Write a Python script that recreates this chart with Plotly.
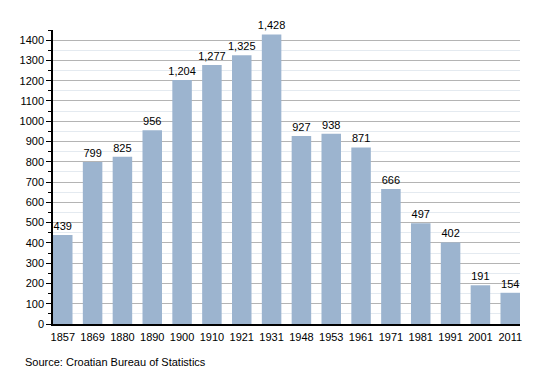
import plotly.graph_objects as go

years = ["1857", "1869", "1880", "1890", "1900", "1910", "1921", "1931",
         "1948", "1953", "1961", "1971", "1981", "1991", "2001", "2011"]
population = [439, 799, 825, 956, 1204, 1277, 1325, 1428,
              927, 938, 871, 666, 497, 402, 191, 154]

fig = go.Figure(go.Bar(
    x=years, y=population,
    marker=dict(color="#9cb4cf", line=dict(width=0)),
    texttemplate="%{y:,}", textposition="outside",
    textfont=dict(size=11, color="#000000"),
    constraintext="none",
    cliponaxis=False, width=0.654,
))

fig.update_layout(
    width=542, height=365,
    margin=dict(l=42, r=30, t=22, b=49),
    plot_bgcolor="white", paper_bgcolor="white",
    font=dict(family="Liberation Sans, Arial, sans-serif", size=11, color="#000000"),
    showlegend=False,
    separators=".,",
)
fig.update_xaxes(
    type="category", range=[-0.327, len(years) - 1 + 0.327],
    showline=True, linecolor="#000000", linewidth=1.5,
    ticks="", showgrid=False, tickfont=dict(size=11), ticklabelstandoff=2,
)
fig.update_yaxes(
    range=[0, 1450], dtick=100, tick0=0,
    showline=True, linecolor="#000000", linewidth=1.5,
    ticks="outside", ticklen=5, tickcolor="#000000",
    showgrid=True, gridcolor="#b4b4b4", gridwidth=1,
    zeroline=False, tickfont=dict(size=11),
    minor=dict(dtick=50, ticks="outside", ticklen=3, tickcolor="#000000",
               showgrid=True, gridcolor="#e4eaf0", gridwidth=1),
)
fig.add_annotation(
    text="Source: Croatian Bureau of Statistics",
    xref="paper", yref="paper", x=-0.0638, y=-0.129,
    xanchor="left", yanchor="middle", showarrow=False,
    font=dict(size=11, color="#000000"),
)
fig.write_html("out.html")
